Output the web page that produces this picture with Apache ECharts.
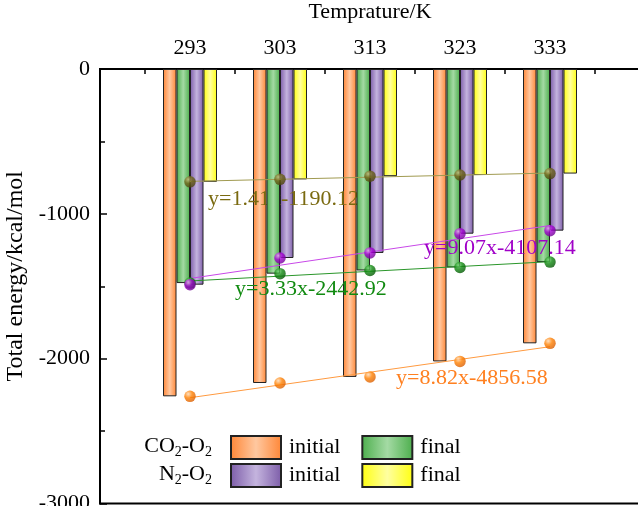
<!DOCTYPE html>
<html>
<head>
<meta charset="utf-8">
<script src="https://cdn.jsdelivr.net/npm/echarts@6/dist/echarts.min.js"></script>
<style>
  html, body { margin: 0; padding: 0; background: #fff; }
  #chart { width: 638px; height: 506px; }
</style>
</head>
<body>
<div id="chart"></div>
<script>
  // data
  const temps = [293, 303, 313, 323, 333];
  const tickPositions = [288, 298, 308, 318, 328, 338];
  const co2Initial = [-2260, -2168, -2126, -2019, -1894];
  const co2Final = [-1478, -1413, -1391, -1370, -1333];
  const n2Initial = [-1489, -1305, -1270, -1137, -1116];
  const n2Final = [-779, -762, -740, -732, -722];
  const fitTexts = ['y=1.41x-1190.12', 'y=3.33x-2442.92', 'y=9.07x-4107.14', 'y=8.82x-4856.58'];

  const FONT = "'Liberation Serif', 'Times New Roman', serif";

  const chart = echarts.init(document.getElementById('chart'));

  // least squares line through the points
  function linearFit(xs, ys) {
    const n = xs.length;
    const mx = xs.reduce((a, b) => a + b, 0) / n;
    const my = ys.reduce((a, b) => a + b, 0) / n;
    let sxy = 0, sxx = 0;
    xs.forEach((x, i) => {
      sxy += (x - mx) * (ys[i] - my);
      sxx += (x - mx) * (x - mx);
    });
    const k = sxy / sxx;
    return x => my + k * (x - mx);
  }

  function barFill(edge, mid) {
    return new echarts.graphic.LinearGradient(0, 0, 1, 0, [
      {offset: 0, color: edge},
      {offset: 0.5, color: mid},
      {offset: 1, color: edge}
    ]);
  }

  function ballFill(light, base, dark) {
    return new echarts.graphic.RadialGradient(0.35, 0.3, 0.75, [
      {offset: 0, color: light},
      {offset: 0.45, color: base},
      {offset: 1, color: dark}
    ]);
  }

  function barSeries(name, values, fill, z) {
    return {
      name: name,
      type: 'bar',
      data: temps.map((t, i) => [t, values[i]]),
      barWidth: 13.5,
      barGap: '0%',
      z: z,
      itemStyle: {color: fill, borderColor: '#222', borderWidth: 1}
    };
  }

  function fitSeries(values, color) {
    const f = linearFit(temps, values);
    const ends = [temps[0], temps[temps.length - 1]];
    return {
      type: 'line',
      data: ends.map(t => [t, f(t)]),
      showSymbol: false,
      silent: true,
      z: 6,
      lineStyle: {color: color, width: 1}
    };
  }

  function ballSeries(values, fill) {
    return {
      type: 'scatter',
      data: temps.map((t, i) => [t, values[i]]),
      symbolSize: 11.5,
      z: 7,
      itemStyle: {color: fill}
    };
  }

  function eqText(text, x, y, color, z) {
    return {
      type: 'text',
      x: x,
      y: y,
      z: z,
      style: {
        text: text,
        fill: color,
        font: '22px ' + FONT,
        textAlign: 'left',
        textVerticalAlign: 'middle',
        align: 'left',
        verticalAlign: 'middle'
      }
    };
  }

  function rowLabel(text, y) {
    return {
      type: 'text',
      x: 212,
      y: y,
      z: 10,
      style: {
        text: text,
        fill: '#000',
        textAlign: 'right',
        textVerticalAlign: 'middle',
        align: 'right',
        verticalAlign: 'middle',
        rich: {
          n: {fontSize: 22, fontFamily: FONT, lineHeight: 26, fill: '#000', color: '#000'},
          s: {fontSize: 14, fontFamily: FONT, lineHeight: 14, verticalAlign: 'bottom', fill: '#000', color: '#000'}
        }
      }
    };
  }

  const legendBase = {
    orient: 'horizontal',
    left: 230,
    padding: 0,
    itemWidth: 50,
    itemHeight: 23,
    itemGap: 21,
    icon: 'rect',
    selectedMode: false,
    formatter: name => name.split(' ')[1],
    textStyle: {fontSize: 22, fontFamily: FONT, color: '#000', width: 67, padding: [0, 0, 0, 3]}
  };

  chart.setOption({
    animation: false,
    grid: {
      left: 100,
      top: 69,
      right: -2,
      bottom: 2.5,
      outerBoundsMode: 'none',
      containLabel: false,
      show: true,
      borderColor: '#000',
      borderWidth: 2
    },
    xAxis: {
      type: 'value',
      position: 'top',
      min: 283,
      max: 343,
      name: 'Temprature/K',
      nameLocation: 'middle',
      nameGap: 46,
      nameTextStyle: {fontSize: 22, fontFamily: FONT, color: '#000'},
      axisLine: {lineStyle: {color: '#000', width: 2}},
      axisTick: {inside: true, length: 5, customValues: tickPositions, lineStyle: {color: '#000', width: 1.5}},
      axisLabel: {customValues: temps, margin: 10, fontSize: 22, fontFamily: FONT, color: '#000'},
      splitLine: {show: false}
    },
    yAxis: {
      type: 'value',
      min: -3000,
      max: 0,
      interval: 1000,
      name: 'Total energy/kcal/mol',
      nameLocation: 'middle',
      nameGap: 64,
      nameTextStyle: {fontSize: 24, fontFamily: FONT, color: '#000', padding: [0, 0, 0, 20]},
      axisLine: {show: true, lineStyle: {color: '#000', width: 2}},
      axisTick: {show: true, inside: true, length: 7, lineStyle: {color: '#000', width: 1.5}},
      minorTick: {show: true, splitNumber: 2, length: 5, lineStyle: {color: '#000', width: 1.5}},
      axisLabel: {margin: 10, fontSize: 22, fontFamily: FONT, color: '#000', formatter: v => String(v)},
      splitLine: {show: false}
    },
    legend: [
      Object.assign({}, legendBase, {top: 435, data: ['CO2-O2 initial', 'CO2-O2 final']}),
      Object.assign({}, legendBase, {top: 463, data: ['N2-O2 initial', 'N2-O2 final']})
    ],
    graphic: [
      eqText(fitTexts[0], 208, 199, '#7a6a10', 4),
      eqText(fitTexts[1], 235, 289, '#108a10', 10),
      eqText(fitTexts[2], 424, 248, '#a000c8', 10),
      eqText(fitTexts[3], 396, 378, '#ff8020', 10),
      rowLabel('{n|CO}{s|2}{n|-O}{s|2}', 446),
      rowLabel('{n|N}{s|2}{n|-O}{s|2}', 474)
    ],
    series: [
      barSeries('CO2-O2 initial', co2Initial, barFill('#ff8636', '#ffc8a0'), 2),
      barSeries('CO2-O2 final', co2Final, barFill('#4cae4c', '#a4daa4'), 5),
      barSeries('N2-O2 initial', n2Initial, barFill('#7c5ca8', '#c4b4de'), 2),
      barSeries('N2-O2 final', n2Final, barFill('#ffff10', '#ffffa0'), 2),
      fitSeries(n2Final, '#a09a50'),
      fitSeries(co2Final, '#2a962a'),
      fitSeries(n2Initial, '#c848e8'),
      fitSeries(co2Initial, '#ff9a40'),
      ballSeries(n2Final, ballFill('#c8bc80', '#6e6418', '#4a420c')),
      ballSeries(co2Final, ballFill('#80d880', '#108a10', '#005400')),
      ballSeries(n2Initial, ballFill('#f0a0ff', '#a800d8', '#6c0090')),
      ballSeries(co2Initial, ballFill('#ffd8b0', '#ff8000', '#d85c00'))
    ]
  });
</script>
</body>
</html>
